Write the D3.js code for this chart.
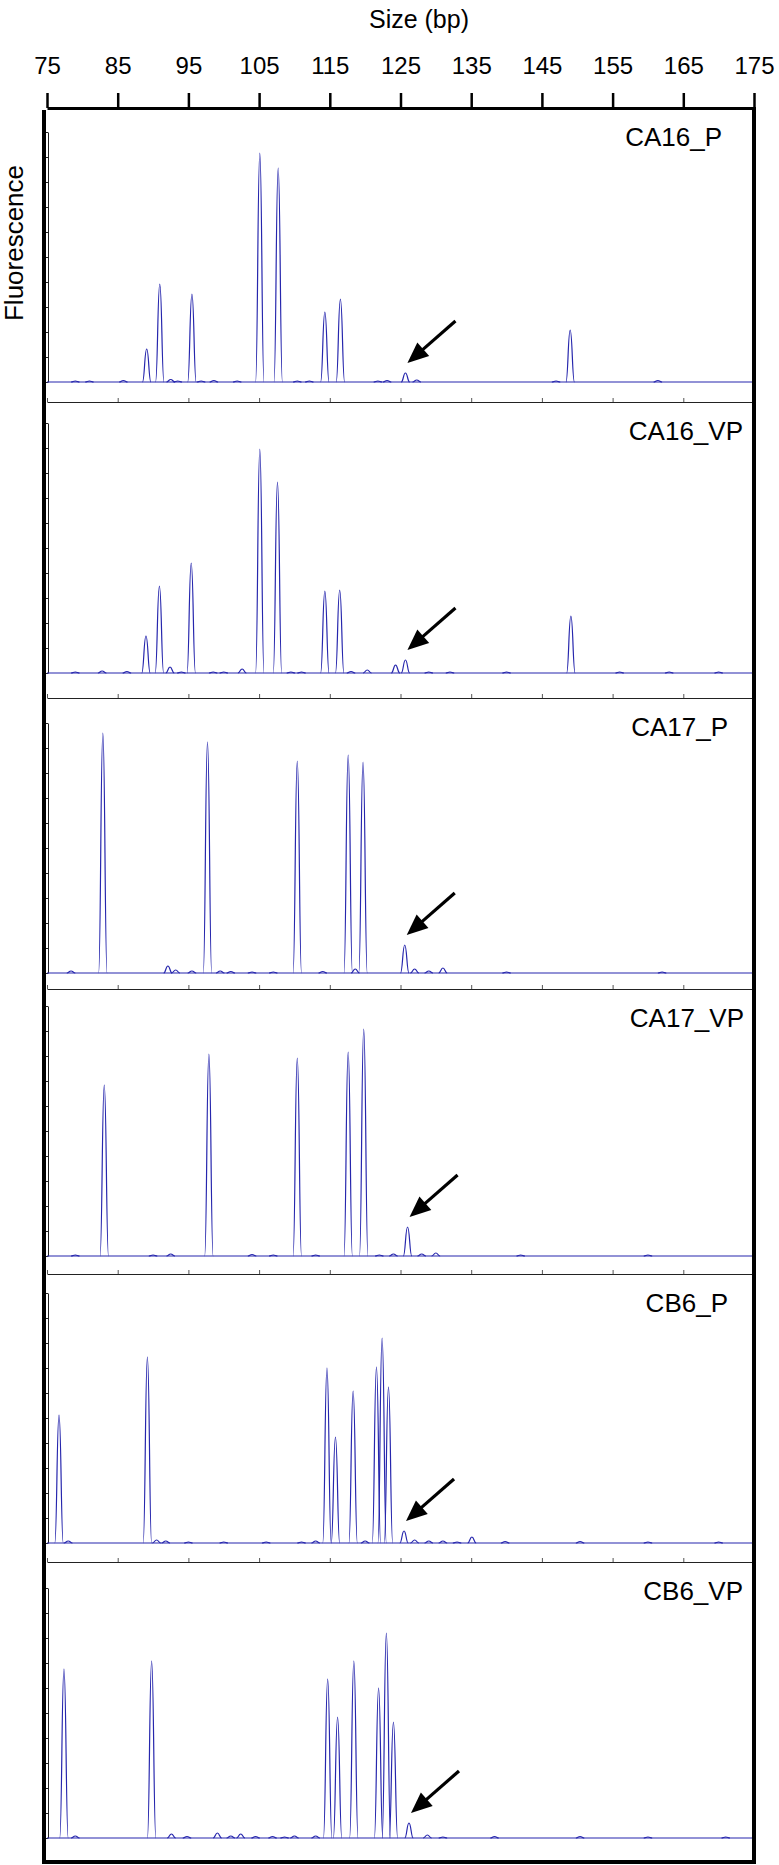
<!DOCTYPE html>
<html>
<head>
<meta charset="utf-8">
<script src="https://cdn.jsdelivr.net/npm/d3@7"></script>
<style>
  body { margin: 0; background: #fff; }
  svg { display: block; font-family: "Liberation Sans", Arial, sans-serif; }
</style>
</head>
<body>
<svg id="chart"></svg>
<script>
// ---- data: [size (bp), peak height (relative fluorescence)] ----
let sizeTicks = [75, 85, 95, 105, 115, 125, 135, 145, 155, 165, 175];
let panelNames = ["CA16_P", "CA16_VP", "CA17_P", "CA17_VP", "CB6_P", "CB6_VP"];

let ca16P = [[79, 1], [81, 1], [85.8, 1.5], [89.1, 33], [90.95, 98], [92.5, 2.5], [93.5, 1],
  [95.5, 88], [96.8, 1], [98.6, 1.5], [101.9, 1], [105.1, 229], [107.7, 214], [110.4, 1],
  [112.1, 1], [114.3, 70], [116.5, 83], [121.8, 1], [123.1, 1.5], [125.7, 9], [127.3, 2],
  [147, 1], [149, 52], [161.4, 1.5]];
let ca16VP = [[79, 1], [82.8, 2], [86.3, 1.5], [89.0, 37], [90.9, 87], [92.4, 6], [94, 1],
  [95.4, 110], [98.5, 1], [100, 1], [102.6, 4], [105.1, 224], [107.6, 191], [109.5, 1],
  [111, 1], [114.3, 82], [116.4, 83], [118, 1.5], [120.3, 3], [124.3, 8], [125.7, 13],
  [129, 1], [132, 1], [140, 1], [149.1, 57], [156, 1], [163, 1], [170, 1]];
let ca17P = [[78.4, 2], [82.9, 240], [92.1, 7], [93.2, 3], [95.5, 2], [97.7, 231], [99.5, 2],
  [101, 1.5], [104, 1], [107, 1], [110.4, 212], [114, 1.5], [117.6, 218], [118.6, 4],
  [119.7, 211], [125.6, 28], [127, 4], [129, 2], [131, 5], [140, 1], [162, 1]];
let ca17VP = [[79, 1], [83.1, 171], [90, 1], [92.5, 2], [97.9, 202], [104, 1.5], [107, 1],
  [110.4, 198], [113, 1], [117.6, 204], [119.8, 227], [122, 1], [124, 2], [126, 29],
  [128, 2], [130, 3], [142, 1], [160, 1]];
let cb6P = [[76.7, 128], [78, 2], [89.2, 186], [90.5, 3], [91.8, 2], [95, 1], [100, 1],
  [106, 1], [111, 1], [113, 2], [114.6, 175], [115.8, 106], [118.3, 152], [120, 2],
  [121.6, 176], [122.4, 205], [123.3, 156], [125.5, 12], [127, 3], [129, 2], [131, 2],
  [133, 1], [135.1, 6], [139.8, 1.5], [150.4, 1.5], [160, 1], [170, 1]];
let cb6VP = [[77.4, 169], [79, 2], [89.8, 177], [92.6, 4], [94.8, 1.5], [99.1, 5], [101, 2],
  [102.4, 4], [104.5, 1.5], [106.9, 1.5], [108.6, 1], [110, 2], [113, 2], [114.7, 159],
  [116.1, 121], [118.4, 177], [121.9, 150], [123.0, 205], [124.0, 116], [126.2, 15],
  [128.8, 3], [131, 1], [138.3, 1.5], [150.4, 1.5], [160, 1], [171, 1]];

let traces = [ca16P, ca16VP, ca17P, ca17VP, cb6P, cb6VP];
let arrowSizes = [125.7, 125.7, 125.6, 126, 125.5, 126.2];

// ---- layout ----
let width = 779;
let height = 1865;
let left = 47;
let right = 754;
let panelTops = [108, 402, 698, 989, 1274, 1562, 1862];
let baseGap = [20, 25, 16, 18, 19, 24];
let labelRight = [722, 743, 728, 744, 728, 743];
let halfWidth = 0.6; // bp, half width of a drawn peak
let traceColor = "#2626ad";

let svg = d3.select("#chart").attr("width", width).attr("height", height);

let xScale = d3.scaleLinear().domain([75, 175]).range([left, right]);

// top axis
let topAxis = svg.append("g")
  .attr("transform", "translate(0," + panelTops[0] + ")")
  .call(d3.axisTop(xScale).tickValues(sizeTicks).tickSize(15).tickPadding(19).tickSizeOuter(0));
topAxis.select(".domain").attr("stroke", "#000").attr("stroke-width", 3);
topAxis.selectAll(".tick line").attr("stroke", "#000").attr("stroke-width", 2.5);
topAxis.selectAll(".tick text").attr("font-size", 24).attr("fill", "#000")
  .attr("font-family", "Liberation Sans, Arial, sans-serif");

svg.append("text")
  .attr("x", 419).attr("y", 28)
  .attr("text-anchor", "middle").attr("font-size", 25)
  .text("Size (bp)");

svg.append("text")
  .attr("transform", "translate(23,243) rotate(-90)")
  .attr("text-anchor", "middle").attr("font-size", 26)
  .text("Fluorescence");

let peakLine = d3.line()
  .x((d) => xScale(d[0]))
  .y((d) => d[1])
  .curve(d3.curveBumpX);

traces.forEach((trace, i) => {
  let top = panelTops[i];
  let bottom = panelTops[i + 1];
  let base = bottom - baseGap[i];
  let yScale = d3.scaleLinear().domain([0, 250]).range([base, base - 250]);
  let g = svg.append("g");

  // separator with small upward ticks
  if (i < traces.length - 1) {
    let sep = g.append("g")
      .attr("transform", "translate(0," + bottom + ")")
      .call(d3.axisTop(xScale).tickValues(sizeTicks).tickSize(4).tickFormat("").tickSizeOuter(0));
    sep.select(".domain").attr("stroke", "#222").attr("stroke-width", 1.2);
    sep.selectAll(".tick line").attr("stroke", "#555");
  }

  // small ticks on the left edge
  let yTicks = d3.range(0, yScale.invert(top + 10), 25);
  let ax = g.append("g")
    .attr("transform", "translate(" + (left + 1) + ",0)")
    .call(d3.axisLeft(yScale).tickValues(yTicks).tickSize(4).tickFormat("").tickSizeOuter(0));
  ax.select(".domain").attr("stroke", "#222");
  ax.selectAll(".tick line").attr("stroke", "#222");

  // baseline of the trace
  g.append("path")
    .attr("d", peakLine([[75, yScale(0)], [175, yScale(0)]]))
    .attr("fill", "none").attr("stroke", traceColor).attr("stroke-width", 1.1);

  // peaks
  g.selectAll(".peak")
    .data(trace)
    .enter()
    .append("path")
    .attr("class", "peak")
    .attr("d", (d) => peakLine([
      [d[0] - halfWidth, yScale(0)],
      [d[0], yScale(d[1])],
      [d[0] + halfWidth, yScale(0)]
    ]))
    .attr("fill", "none")
    .attr("stroke", traceColor)
    .attr("stroke-width", 1.2);

  // sample label
  g.append("text")
    .attr("x", labelRight[i]).attr("y", top + 38)
    .attr("text-anchor", "end").attr("font-size", 26)
    .text(panelNames[i]);

  // arrow pointing at the small peak
  let target = trace.reduce((a, b) =>
    Math.abs(b[0] - arrowSizes[i]) < Math.abs(a[0] - arrowSizes[i]) ? b : a);
  let tip = [xScale(target[0]) + 2, yScale(target[1]) - 10];
  let tail = [tip[0] + 48, tip[1] - 42];
  let len = Math.hypot(tail[0] - tip[0], tail[1] - tip[1]);
  let ux = (tip[0] - tail[0]) / len;
  let uy = (tip[1] - tail[1]) / len;
  let headLen = 21;
  let headHalf = 9;
  let back = [tip[0] - ux * headLen, tip[1] - uy * headLen];
  g.append("line")
    .attr("x1", tail[0]).attr("y1", tail[1])
    .attr("x2", back[0] + ux * 3).attr("y2", back[1] + uy * 3)
    .attr("stroke", "#000").attr("stroke-width", 3.2);
  g.append("path")
    .attr("d", "M" + tip[0] + "," + tip[1] +
      "L" + (back[0] - uy * headHalf) + "," + (back[1] + ux * headHalf) +
      "L" + (back[0] + uy * headHalf) + "," + (back[1] - ux * headHalf) + "Z")
    .attr("fill", "#000");
});

// heavy frame: left, right, bottom
svg.append("line").attr("x1", 44).attr("x2", 44).attr("y1", 110).attr("y2", 1864)
  .attr("stroke", "#000").attr("stroke-width", 4);
svg.append("line").attr("x1", right).attr("x2", right).attr("y1", 107).attr("y2", 1864)
  .attr("stroke", "#000").attr("stroke-width", 4);
svg.append("line").attr("x1", 42).attr("x2", right + 2).attr("y1", 1862).attr("y2", 1862)
  .attr("stroke", "#000").attr("stroke-width", 4);
</script>
</body>
</html>
